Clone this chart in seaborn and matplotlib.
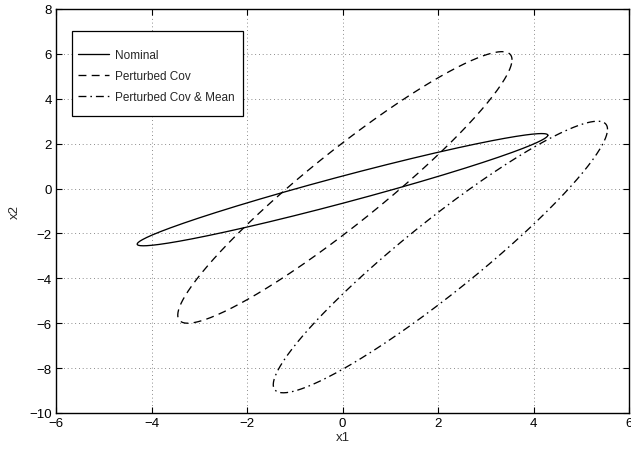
import numpy as np
import pandas as pd
import matplotlib
matplotlib.use("Agg")
import matplotlib.pyplot as plt
from matplotlib.patches import Rectangle
import seaborn as sns

# Ellipse definitions
series_names = ["Nominal", "Perturbed Cov", "Perturbed Cov & Mean"]
centers_x = [0.0, 0.05, 2.05]
centers_y = [-0.05, 0.05, -3.05]
half_x = [4.3, 3.5, 3.5]          # extreme extent along x1
half_y = [2.5, 6.05, 6.05]        # extreme extent along x2
rho = [0.97, 0.94, 0.94]          # correlation
x_ticks = [-6, -4, -2, 0, 2, 4, 6]
y_ticks = [-10, -8, -6, -4, -2, 0, 2, 4, 6, 8]

sns.set_style("ticks")
plt.rcParams["font.family"] = ["Liberation Sans", "DejaVu Sans"]
plt.rcParams["axes.unicode_minus"] = True

t = np.linspace(0, 2 * np.pi, 400)
frames = []
for name, cx, cy, sx, sy, r in zip(series_names, centers_x, centers_y, half_x, half_y, rho):
    xs = cx + sx * np.cos(t)
    ys = cy + sy * (r * np.cos(t) + np.sqrt(1 - r * r) * np.sin(t))
    frames.append(pd.DataFrame({"x1": xs, "x2": ys, "series": name}))
df = pd.concat(frames, ignore_index=True)

fig = plt.figure(figsize=(6.31, 4.52), dpi=100)
ax = fig.add_axes([56 / 631, 1 - 414 / 452, 573 / 631, 404 / 452])

dash_map = {"Nominal": "",
            "Perturbed Cov": (6, 4),
            "Perturbed Cov & Mean": (6, 3, 1.2, 3)}
sns.lineplot(data=df, x="x1", y="x2", hue="series", style="series",
             palette=["black"] * 3, dashes=dash_map, sort=False,
             estimator=None, linewidth=0.95, ax=ax, legend=True)

ax.set_xlim(-6, 6)
ax.set_ylim(-10, 8)
ax.set_xticks(x_ticks)
ax.set_yticks(y_ticks)
ax.grid(True, linestyle=(0, (1, 3.5)), color="#666666", linewidth=0.6)
ax.tick_params(direction="in", length=4, width=0.8, top=True, right=True,
               labelsize=9.5, colors="black", pad=3)
for s in ax.spines.values():
    s.set_linewidth(1.0)
    s.set_color("black")
ax.set_xlabel("x1", fontsize=9.5, labelpad=1)
ax.set_ylabel("x2", fontsize=9.5, labelpad=6)

# Legend (MATLAB-like box drawn separately)
leg = ax.legend(loc="upper left", bbox_to_anchor=(0.0384, 0.8998), frameon=False,
                fontsize=8.5, handlelength=2.6, labelspacing=0.75,
                borderpad=0, handletextpad=0.5, borderaxespad=0)
ax.add_patch(Rectangle((0.0279, 0.7351), 0.2984, 0.2104, transform=ax.transAxes,
                       facecolor="white", edgecolor="black", linewidth=0.9, zorder=4))
leg.set_zorder(5)

fig.savefig("out.png", dpi=100)
